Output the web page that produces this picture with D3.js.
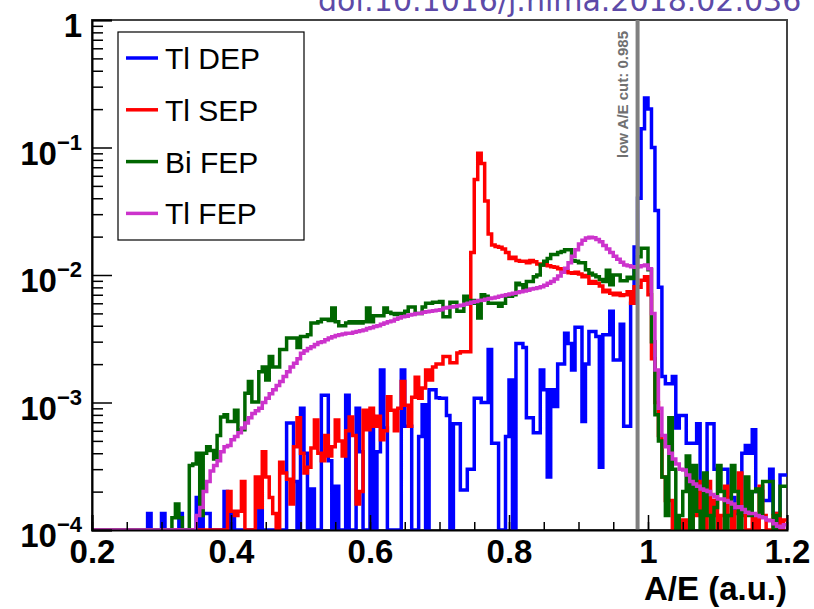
<!DOCTYPE html>
<html><head><meta charset="utf-8">
<script src="https://cdn.jsdelivr.net/npm/d3@7"></script>
<style>body{margin:0;background:#fff}</style>
</head><body>
<svg id="c" width="814" height="609"></svg>
<script>
// ---- histogram binning ----
const binLow = 0.2, binWidth = 0.005;

// ---- series (fraction per bin, 200 bins from 0.2 to 1.2) ----
const tlDEP = [
0,0,0,0,0,0,0,0,0,0,
0,0,0,0,0,0,1.35e-4,0,0,0,
1.35e-4,0,0,0,0,1.35e-4,0,0,0,0,
1.8e-4,0,1.35e-4,1.35e-4,0,0,0,0,2.0e-4,0,
1.35e-4,0,0,0,0,0,0,0,2.0e-4,0,
0,0,0,0,0,0,6.9e-4,6.9e-4,2.4e-4,0,
9.0e-4,4.0e-4,0,2.1e-4,0,0,1.14e-3,1.14e-3,3.5e-4,0,
2.2e-4,0,0,1.14e-3,0,0,9.0e-4,4.1e-4,0,0,
7.9e-4,0,4.1e-4,1.8e-3,6.3e-4,0,0,0,0,1.8e-3,
6.5e-4,6.5e-4,0,0,5.4e-4,9.6e-4,0,1.26e-3,1.26e-3,1.09e-3,
1.08e-3,1.08e-3,7.9e-4,0,6.8e-4,6.8e-4,2.06e-4,2.06e-4,3.0e-4,3.0e-4,
1.08e-3,1.08e-3,1.0e-3,1.0e-3,2.6e-3,4.8e-4,4.8e-4,0,0,5.4e-4,
1.5e-3,0,2.9e-3,2.9e-3,2.7e-3,7.6e-4,7.6e-4,5.8e-4,5.8e-4,1.8e-3,
1.26e-3,2.6e-4,1.26e-3,9.3e-4,2.0e-3,2.0e-3,3.5e-3,2.9e-3,1.8e-3,3.9e-3,
3.9e-3,7.1e-4,2.0e-3,3.6e-3,3.6e-3,3.3e-3,3.1e-4,3.4e-3,3.4e-3,5.2e-3,
2.15e-3,2.15e-3,4.1e-3,6.5e-4,6.5e-4,6.0e-3,1.66e-2,4.0e-2,0.14,0.244,
0.2,0.1,3.2e-2,8.0e-3,1.6e-3,1.4e-3,1.4e-3,1.6e-3,6.3e-4,7.9e-4,
7.9e-4,4.8e-4,4.8e-4,4.8e-4,6.8e-4,1.45e-4,1.45e-4,6.8e-4,6.8e-4,3.0e-4,
3.0e-4,3.0e-4,3.0e-4,1.8e-4,1.8e-4,1.35e-4,1.35e-4,4.0e-4,4.6e-4,4.0e-4,
6.1e-4,2.0e-4,2.0e-4,1.7e-4,1.7e-4,3.0e-4,1.35e-4,0,2.7e-4,2.7e-4
];
const tlSEP = [
0,0,0,0,0,0,0,0,0,0,
0,0,0,0,0,0,0,0,0,0,
0,0,0,0,0,0,0,0,0,0,
0,0,0,0,0,0,0,0,0,2.0e-4,
1.4e-4,1.3e-4,1.4e-4,2.4e-4,0,0,0,2.6e-4,1.5e-4,4.1e-4,
2.6e-4,1.8e-4,1.35e-4,0,3.4e-4,2.8e-4,2.5e-4,1.6e-4,4.5e-4,7.6e-4,
4.0e-4,2.8e-4,3.1e-4,4.4e-4,7.3e-4,4.0e-4,3.5e-4,5.5e-4,3.8e-4,4.5e-4,
7.3e-4,5.0e-4,3.8e-4,6.0e-4,7.7e-4,5.5e-4,1.6e-4,2.0e-4,8.7e-4,6.1e-4,
9.0e-4,6.5e-4,7.8e-4,5.1e-4,6.0e-4,1.11e-3,8.7e-4,6.0e-4,9.0e-4,1.46e-3,
9.5e-4,6.5e-4,1.1e-3,1.58e-3,1.08e-3,1.3e-3,1.8e-3,1.5e-3,1.9e-3,2.0e-3,
2.0e-3,2.3e-3,2.3e-3,2.05e-3,2.05e-3,2.45e-3,2.5e-3,2.5e-3,2.5e-3,1.5e-2,
5.6e-2,9.0e-2,7.5e-2,3.8e-2,2.1e-2,1.72e-2,1.67e-2,1.65e-2,1.6e-2,1.5e-2,
1.35e-2,1.38e-2,1.3e-2,1.28e-2,1.28e-2,1.25e-2,1.3e-2,1.27e-2,1.22e-2,1.2e-2,
1.22e-2,1.18e-2,1.16e-2,1.15e-2,1.12e-2,1.06e-2,1.08e-2,1.04e-2,1.03e-2,1.05e-2,
1.02e-2,9.7e-3,9.9e-3,8.6e-3,8.9e-3,8.6e-3,8.2e-3,7.4e-3,7.6e-3,7.2e-3,
7.0e-3,7.2e-3,6.9e-3,7.0e-3,7.4e-3,6.0e-3,8.1e-3,8.0e-3,9.1e-3,9.7e-3,
7.0e-3,2.2e-3,1.0e-3,5.5e-4,2.6e-4,1.7e-4,1.7e-4,0,0,0,
1.2e-4,0,0,1.3e-4,2.4e-4,1.3e-4,0,2.4e-4,1.3e-4,1.7e-4,
0,1.3e-4,2.2e-4,1.3e-4,0,1.4e-4,2.8e-4,1.3e-4,0,0,
1.3e-4,0,2.2e-4,1.3e-4,0,0,1.3e-4,1.35e-4,0,1.2e-4
];
const biFEP = [
0,0,0,0,0,0,0,0,0,0,
0,0,0,0,0,0,0,0,0,0,
0,0,0,1.25e-4,1.6e-4,1.25e-4,0,0,3.2e-4,3.3e-4,
4.0e-4,1.3e-4,4.0e-4,4.5e-4,4.2e-4,3.6e-4,5.5e-4,7.7e-4,8.0e-4,7.1e-4,
7.1e-4,8.7e-4,6.1e-4,6.1e-4,1.18e-3,1.46e-3,1.01e-3,1.01e-3,1.74e-3,1.9e-3,
1.5e-3,2.3e-3,1.9e-3,1.9e-3,2.6e-3,2.6e-3,3.2e-3,3.2e-3,3.2e-3,2.7e-3,
3.3e-3,3.3e-3,3.4e-3,4.2e-3,4.2e-3,4.3e-3,4.5e-3,4.5e-3,4.4e-3,5.5e-3,
4.3e-3,4.0e-3,4.0e-3,4.2e-3,4.3e-3,4.2e-3,4.3e-3,4.2e-3,4.3e-3,5.5e-3,
4.3e-3,4.8e-3,4.8e-3,4.8e-3,5.5e-3,5.1e-3,5.0e-3,4.9e-3,5.0e-3,5.0e-3,
5.2e-3,5.6e-3,5.6e-3,5.0e-3,5.0e-3,5.6e-3,6.0e-3,6.0e-3,6.1e-3,6.1e-3,
6.2e-3,4.7e-3,4.7e-3,6.1e-3,6.1e-3,5.2e-3,5.2e-3,6.8e-3,6.3e-3,6.3e-3,
6.0e-3,4.6e-3,7.0e-3,6.8e-3,6.0e-3,6.0e-3,6.0e-3,5.7e-3,6.0e-3,6.8e-3,
6.8e-3,7.0e-3,8.6e-3,8.4e-3,7.6e-3,8.9e-3,8.9e-3,9.7e-3,1.0e-2,1.2e-2,
1.28e-2,1.35e-2,1.45e-2,1.45e-2,1.5e-2,1.53e-2,1.58e-2,1.58e-2,1.3e-2,1.28e-2,
1.25e-2,1.25e-2,1.1e-2,1.03e-2,1.0e-2,9.7e-3,9.2e-3,8.9e-3,1.09e-2,8.4e-3,
1.0e-2,1.0e-2,9.0e-3,9.0e-3,9.6e-3,9.4e-3,1.16e-2,1.39e-2,1.62e-2,1.62e-2,
1.1e-2,3.0e-3,8.0e-4,5.0e-4,2.6e-4,1.3e-4,7.6e-4,3.0e-4,0,1.3e-4,
2.0e-4,3.8e-4,0,3.2e-4,1.4e-4,0,2.8e-4,1.3e-4,0,1.5e-4,
3.2e-4,2.0e-4,0,1.3e-4,3.2e-4,2.0e-4,0,1.4e-4,2.6e-4,1.3e-4,
2.0e-4,2.1e-4,1.3e-4,2.4e-4,2.4e-4,2.4e-4,0,1.3e-4,2.2e-4,2.2e-4
];
const tlFEP = [
0,0,0,0,0,0,0,0,0,0,
0,0,0,0,0,0,0,0,0,0,
0,0,0,0,0,0,0,0,0,0,
1.3e-4,1.5e-4,2.0e-4,2.4e-4,2.9e-4,3.2e-4,3.5e-4,4.1e-4,4.5e-4,4.6e-4,
5.1e-4,5.4e-4,5.8e-4,6.3e-4,6.9e-4,7.6e-4,8.2e-4,8.6e-4,9.0e-4,1.0e-3,
1.08e-3,1.17e-3,1.26e-3,1.36e-3,1.46e-3,1.6e-3,1.74e-3,1.9e-3,2.03e-3,2.2e-3,
2.43e-3,2.55e-3,2.65e-3,2.74e-3,2.85e-3,2.95e-3,3.0e-3,3.1e-3,3.2e-3,3.28e-3,
3.35e-3,3.4e-3,3.45e-3,3.5e-3,3.5e-3,3.55e-3,3.6e-3,3.65e-3,3.7e-3,3.8e-3,
3.85e-3,3.95e-3,4.0e-3,4.1e-3,4.2e-3,4.3e-3,4.35e-3,4.5e-3,4.6e-3,4.7e-3,
4.75e-3,4.85e-3,4.9e-3,5.0e-3,5.0e-3,5.1e-3,5.15e-3,5.2e-3,5.25e-3,5.3e-3,
5.35e-3,5.5e-3,5.55e-3,5.6e-3,5.65e-3,5.75e-3,5.8e-3,5.9e-3,6.0e-3,6.1e-3,
6.2e-3,6.3e-3,6.35e-3,6.45e-3,6.55e-3,6.6e-3,6.7e-3,6.8e-3,6.9e-3,7.0e-3,
7.1e-3,7.2e-3,7.3e-3,7.4e-3,7.5e-3,7.6e-3,7.75e-3,7.85e-3,7.95e-3,8.1e-3,
8.3e-3,8.6e-3,8.9e-3,9.3e-3,9.8e-3,1.05e-2,1.13e-2,1.25e-2,1.4e-2,1.58e-2,
1.75e-2,1.87e-2,1.95e-2,1.98e-2,1.96e-2,1.9e-2,1.82e-2,1.7e-2,1.6e-2,1.5e-2,
1.4e-2,1.33e-2,1.26e-2,1.2e-2,1.18e-2,1.16e-2,1.15e-2,1.16e-2,1.18e-2,1.2e-2,
1.12e-2,5.0e-3,1.8e-3,9.0e-4,5.5e-4,4.5e-4,4.0e-4,3.6e-4,3.3e-4,3.0e-4,
2.95e-4,2.7e-4,2.4e-4,2.3e-4,2.2e-4,2.1e-4,2.05e-4,2.0e-4,1.9e-4,1.82e-4,
1.75e-4,1.75e-4,1.7e-4,1.65e-4,1.6e-4,1.5e-4,1.52e-4,1.45e-4,1.38e-4,1.35e-4,
1.35e-4,1.3e-4,1.27e-4,1.25e-4,1.2e-4,1.18e-4,1.12e-4,1.07e-4,1.05e-4,1.1e-4
];

const seriesNames  = ["Tl DEP", "Tl SEP", "Bi FEP", "Tl FEP"];
const seriesData   = [tlDEP, tlSEP, biFEP, tlFEP];
const seriesColors = ["#0000ff", "#ff0000", "#006600", "#cc33cc"];

const xDomain = [0.2, 1.2];
const yDomain = [1e-4, 1];
const xMajorTicks = [0.2, 0.4, 0.6, 0.8, 1.0, 1.2];
const xTickLabels = ["0.2", "0.4", "0.6", "0.8", "1", "1.2"];
const yMajorTicks = [1e-4, 1e-3, 1e-2, 1e-1, 1];
const yTickBase   = ["10", "10", "10", "10", "1"];
const yTickExp    = ["\u22124", "\u22123", "\u22122", "\u22121", ""];
const cutValue = 0.985;
const cutLabel = "low A/E cut: 0.985";
const xTitle = "A/E (a.u.)";
const doiText = "doi:10.1016/j.nima.2018.02.036";

// ---- layout ----
const L = 92, R = 787, T = 20, B = 530;
const svg = d3.select("#c");
const x = d3.scaleLinear(xDomain, [L, R]);
const y = d3.scaleLog(yDomain, [B, T]);

svg.append("defs").append("clipPath").attr("id", "clip")
  .append("rect").attr("x", L).attr("y", T - 2).attr("width", R - L).attr("height", B - T + 2);

// doi text (partly off canvas)
svg.append("text").attr("x", 318).attr("y", 11)
  .attr("font-family", "DejaVu Sans").attr("font-size", 30)
  .attr("fill", "#5d4aa8").text(doiText);

// frame
svg.append("rect").attr("x", L).attr("y", T).attr("width", R - L).attr("height", B - T)
  .attr("fill", "none").attr("stroke", "#444").attr("stroke-width", 2);

// histograms
const g = svg.append("g").attr("clip-path", "url(#clip)");
const line = d3.line().curve(d3.curveStepAfter)
  .x(d => x(d[0])).y(d => y(Math.max(d[1], yDomain[0])));
seriesData.forEach((vals, k) => {
  const pts = vals.map((v, i) => [binLow + i * binWidth, v]);
  pts.push([binLow + vals.length * binWidth, vals[vals.length - 1]]);
  g.append("path").datum(pts).attr("d", line)
    .attr("fill", "none").attr("stroke", seriesColors[k])
    .attr("stroke-width", 3.5).attr("stroke-linejoin", "miter");
});

// cut line
svg.append("line").attr("x1", x(cutValue)).attr("x2", x(cutValue))
  .attr("y1", T).attr("y2", B).attr("stroke", "#808080").attr("stroke-width", 4);
svg.append("text")
  .attr("transform", `translate(${x(cutValue) - 10},158) rotate(-90)`)
  .attr("font-family", "Liberation Sans, Arial, sans-serif").attr("font-weight", "bold")
  .attr("font-size", 15).attr("fill", "#707070").text(cutLabel);

// x axis
const xMinor = d3.range(0, 21).map(i => 0.2 + i * 0.05);
svg.append("g").attr("transform", `translate(0,${B})`)
  .call(d3.axisBottom(x).tickValues(xMinor).tickSize(-8).tickFormat(""))
  .call(s => s.select(".domain").remove())
  .selectAll("line").attr("stroke", "#000").attr("stroke-width", 1.5);
const xAx = svg.append("g").attr("transform", `translate(0,${B})`)
  .call(d3.axisBottom(x).tickValues(xMajorTicks).tickSize(-15).tickPadding(0)
    .tickFormat((d, i) => xTickLabels[i]));
xAx.select(".domain").attr("stroke", "#000").attr("stroke-width", 2);
xAx.selectAll("line").attr("stroke", "#000").attr("stroke-width", 1.5);
xAx.selectAll("text").attr("y", 33).attr("dy", 0)
  .attr("font-family", "Liberation Sans, Arial, sans-serif").attr("font-weight", "bold")
  .attr("font-size", 33).attr("fill", "#000");

// y axis
const yMinor = [];
for (let e = -4; e < 0; e++) for (let m = 2; m <= 9; m++) yMinor.push(m * Math.pow(10, e));
svg.append("g").attr("transform", `translate(${L},0)`)
  .call(d3.axisLeft(y).tickValues(yMinor).tickSize(-11).tickFormat(""))
  .call(s => s.select(".domain").remove())
  .selectAll("line").attr("stroke", "#000").attr("stroke-width", 1.5);
const yAx = svg.append("g").attr("transform", `translate(${L},0)`)
  .call(d3.axisLeft(y).tickValues(yMajorTicks).tickSize(-20).tickFormat(""));
yAx.select(".domain").attr("stroke", "#000").attr("stroke-width", 2);
yAx.selectAll("line").attr("stroke", "#000").attr("stroke-width", 1.5);
yMajorTicks.forEach((t, i) => {
  const ty = y(t);
  const txt = svg.append("text").attr("x", 82).attr("y", ty + 17)
    .attr("text-anchor", "end")
    .attr("font-family", "Liberation Sans, Arial, sans-serif").attr("font-weight", "bold")
    .attr("font-size", 33).attr("fill", "#000");
  txt.append("tspan").text(yTickBase[i]);
  if (yTickExp[i]) txt.append("tspan").attr("dy", -15).attr("font-size", 22).text(yTickExp[i]);
});

// x title
svg.append("text").attr("x", R).attr("y", 600).attr("text-anchor", "end")
  .attr("font-family", "Liberation Sans, Arial, sans-serif").attr("font-weight", "bold")
  .attr("font-size", 33).attr("fill", "#000").text(xTitle);

// legend
const lg = svg.append("g");
lg.append("rect").attr("x", 118).attr("y", 32).attr("width", 186).attr("height", 208)
  .attr("fill", "#fff").attr("stroke", "#000").attr("stroke-width", 1.2);
seriesNames.forEach((n, i) => {
  const ly = 58 + i * 51.8;
  lg.append("line").attr("x1", 126).attr("x2", 158).attr("y1", ly).attr("y2", ly)
    .attr("stroke", seriesColors[i]).attr("stroke-width", 3.5);
  lg.append("text").attr("x", 165).attr("y", ly + 11)
    .attr("font-family", "Liberation Sans, Arial, sans-serif")
    .attr("font-size", 30).attr("fill", "#000").text(n);
});
</script>
</body></html>
